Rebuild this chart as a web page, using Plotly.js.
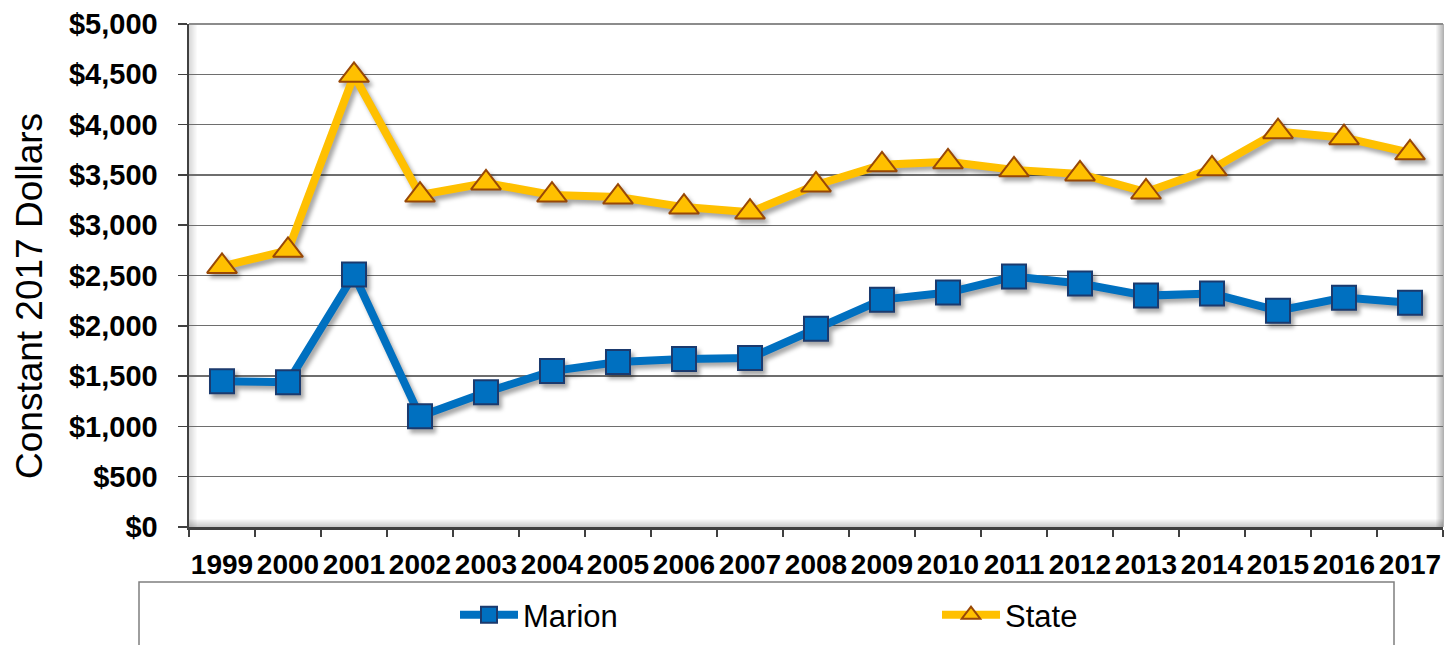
<!DOCTYPE html>
<html>
<head>
<meta charset="utf-8">
<script src="https://cdn.plot.ly/plotly-3.0.1.min.js"></script>
<style>
  html, body { margin: 0; padding: 0; background: #fff; }
  #chart { width: 1444px; height: 645px; }
  .scatterlayer .trace { filter: drop-shadow(3px 4px 2px rgba(0,0,0,0.35)); }
</style>
</head>
<body>
<div id="chart"></div>
<script>
const years = ['1999','2000','2001','2002','2003','2004','2005','2006','2007','2008',
               '2009','2010','2011','2012','2013','2014','2015','2016','2017'];
const marion = [1450, 1440, 2510, 1100, 1340, 1550, 1640, 1670, 1680, 1970,
                2260, 2330, 2490, 2420, 2300, 2320, 2150, 2280, 2230];
const state  = [2590, 2750, 4490, 3300, 3420, 3300, 3280, 3180, 3130, 3400,
                3600, 3630, 3550, 3510, 3330, 3560, 3930, 3870, 3720];
const yTitle = 'Constant 2017 Dollars';

const FONT = 'Liberation Sans, Arial, sans-serif';

const traces = [
  {
    x: years, y: marion, name: 'Marion', type: 'scatter', mode: 'lines+markers',
    line: { color: '#0070C0', width: 8 },
    marker: { symbol: 'square', size: 24, color: '#0070C0', line: { color: '#1B3A6E', width: 2 } }
  },
  {
    x: years, y: state, name: 'State', type: 'scatter', mode: 'lines+markers',
    line: { color: '#FFC000', width: 8 },
    marker: { symbol: 'triangle-up', size: 26, color: '#FFC000', line: { color: '#984807', width: 2 } }
  }
];

// plot area pixel geometry helpers for paper-coordinate shapes
const L = 189, T = 24, W = 1254, H = 503;
const px = v => (v - L) / W;
const py = v => (T + H - v) / H;

const shapes = [];
// inner shadow on plot area edges (right, bottom, left)
const steps = 8;
for (let i = 0; i < steps; i++) {
  const op = 0.10 * (1 - i / steps);
  shapes.push({ type: 'rect', xref: 'paper', yref: 'paper', layer: 'below',
    x0: px(1444 - i - 1), x1: px(1444 - i), y0: 0, y1: 1,
    fillcolor: 'rgba(0,0,0,' + (op * 3).toFixed(3) + ')', line: { width: 0 } });
  shapes.push({ type: 'rect', xref: 'paper', yref: 'paper', layer: 'below',
    x0: 0, x1: 1, y0: py(527 - i), y1: py(527 - i - 1),
    fillcolor: 'rgba(0,0,0,' + (op * 2).toFixed(3) + ')', line: { width: 0 } });
  shapes.push({ type: 'rect', xref: 'paper', yref: 'paper', layer: 'below',
    x0: px(189 + i), x1: px(189 + i + 1), y0: 0, y1: 1,
    fillcolor: 'rgba(0,0,0,' + (op * 1.5).toFixed(3) + ')', line: { width: 0 } });
}
// top border of plot area
shapes.push({ type: 'line', xref: 'paper', yref: 'paper', x0: 0, x1: 1, y0: 1, y1: 1,
  line: { color: '#8c8c8c', width: 2 } });
// legend box
shapes.push({ type: 'rect', xref: 'paper', yref: 'paper',
  x0: px(139), x1: px(1394), y0: py(660), y1: py(582),
  line: { color: '#7f7f7f', width: 1.5 }, fillcolor: 'rgba(0,0,0,0)' });

const layout = {
  width: 1444, height: 645,
  margin: { l: L, r: 1444 - L - W, t: T, b: 645 - T - H, pad: 0 },
  paper_bgcolor: '#ffffff', plot_bgcolor: '#ffffff',
  font: { family: FONT, color: '#000' },
  showlegend: true,
  legend: {
    orientation: 'h', xref: 'paper', yref: 'paper',
    x: px(455), xanchor: 'left', y: py(615), yanchor: 'middle',
    font: { family: FONT, size: 31, color: '#000' },
    bgcolor: 'rgba(0,0,0,0)', borderwidth: 0,
    entrywidth: 409, entrywidthmode: 'pixels', itemwidth: 58
  },
  xaxis: {
    type: 'category', range: [-0.5, 18.5], fixedrange: true,
    tickson: 'boundaries', ticks: 'outside', ticklen: 7, tickwidth: 1.5, tickcolor: '#404040',
    showline: true, linecolor: '#404040', linewidth: 2.5,
    showgrid: false, zeroline: false, tickangle: 0,
    tickfont: { family: FONT, size: 28, color: '#000', weight: 'bold' },
    ticklabelstandoff: 11
  },
  yaxis: {
    range: [0, 5000], dtick: 500, tick0: 0, fixedrange: true,
    tickprefix: '$', tickformat: ',d',
    ticks: 'outside', ticklen: 9, tickwidth: 1.5, tickcolor: '#404040',
    showline: true, linecolor: '#404040', linewidth: 2.5,
    showgrid: true, gridcolor: '#6e6e6e', gridwidth: 1.3, zeroline: false,
    tickfont: { family: FONT, size: 29, color: '#000', weight: 'bold' },
    ticklabelstandoff: 14
  },
  annotations: [{
    text: yTitle, xref: 'paper', yref: 'paper', x: px(29), y: py(296),
    xanchor: 'center', yanchor: 'middle', textangle: -90, showarrow: false,
    font: { family: FONT, size: 37, color: '#000' }
  }],
  shapes: shapes
};

Plotly.newPlot('chart', traces, layout, { displayModeBar: false, staticPlot: true });
</script>
</body>
</html>
